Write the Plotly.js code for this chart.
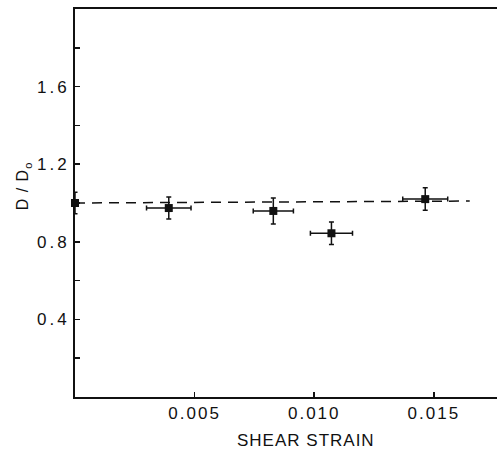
<!DOCTYPE html>
<html>
<head>
<meta charset="utf-8">
<script src="https://cdn.plot.ly/plotly-3.0.1.min.js"></script>
<style>
html,body{margin:0;padding:0;background:#fff;}
#chart{width:497px;height:453px;}
#chart .xtick text{letter-spacing:2px;}
#chart .ytick text{letter-spacing:3px;}
#chart .annotation-text{letter-spacing:1px;}
</style>
</head>
<body>
<div id="chart"></div>
<script>
// Data
const strain      = [0.0000, 0.00392, 0.00829, 0.01072, 0.01464];
const strainErr   = [0,      0.00093, 0.00084, 0.00088, 0.00094];
const ratio       = [1.000,  0.974,   0.959,   0.844,   1.020];
const ratioErr    = [0.055,  0.057,   0.067,   0.058,   0.058];
const refLineX    = [0.0, 0.0165];
const refLineY    = [1.0, 1.01];
const xTickVals   = [0.005, 0.010, 0.015];
const xTickText   = ["0.005", "0.010", "0.015"];
const yTickVals   = [0.4, 0.8, 1.2, 1.6];
const yTickText   = ["0.4", "0.8", "1.2", "1.6"];
const yMinorVals  = [0.2, 0.6, 1.0, 1.4, 1.8];

const ink = '#111111';
const font = 'Liberation Sans, Arial, sans-serif';

const traces = [
  {
    x: refLineX, y: refLineY, mode: 'lines', type: 'scatter',
    line: {color: ink, width: 1.5, dash: '10px,7px'},
    hoverinfo: 'skip', cliponaxis: false
  },
  {
    x: strain, y: ratio, mode: 'markers', type: 'scatter',
    marker: {symbol: 'square', size: 8, color: ink},
    error_y: {type: 'data', array: ratioErr, visible: true, color: ink, thickness: 1.5, width: 2.5},
    error_x: {type: 'data', array: strainErr, visible: true, color: ink, thickness: 1.5, width: 2.5},
    cliponaxis: false
  }
];

const layout = {
  width: 497, height: 453,
  margin: {l: 75, r: 0, t: 9, b: 56},
  paper_bgcolor: '#fff', plot_bgcolor: '#fff',
  showlegend: false,
  font: {family: font, color: ink, size: 17},
  xaxis: {
    range: [0, 0.01764], showgrid: false, zeroline: false,
    showline: true, mirror: true, linecolor: ink, linewidth: 2,
    ticks: 'inside', ticklen: 5, tickwidth: 1.5, tickcolor: ink,
    tickvals: xTickVals, ticktext: xTickText,
    tickfont: {family: font, size: 17, color: ink}
  },
  yaxis: {
    range: [0, 2.0], showgrid: false, zeroline: false,
    showline: true, mirror: false, linecolor: ink, linewidth: 2,
    ticks: 'inside', ticklen: 5, tickwidth: 1.5, tickcolor: ink,
    tickvals: yTickVals, ticktext: yTickText,
    tickfont: {family: font, size: 17, color: ink},
    minor: {tickvals: yMinorVals, ticks: 'inside', ticklen: 5, tickwidth: 1.5, tickcolor: ink, showgrid: false}
  },
  annotations: [
    {text: 'SHEAR STRAIN', xref: 'paper', yref: 'paper', x: 0.547, y: -0.113,
     xanchor: 'center', yanchor: 'middle', showarrow: false,
     font: {family: font, size: 17, color: ink}},
    {text: 'D / D<sub>o</sub>', xref: 'paper', yref: 'paper', x: -0.12, y: 0.544,
     xanchor: 'center', yanchor: 'middle', showarrow: false, textangle: -90,
     font: {family: font, size: 16, color: ink}}
  ]
};

Plotly.newPlot('chart', traces, layout, {staticPlot: true, displayModeBar: false});
</script>
</body>
</html>
